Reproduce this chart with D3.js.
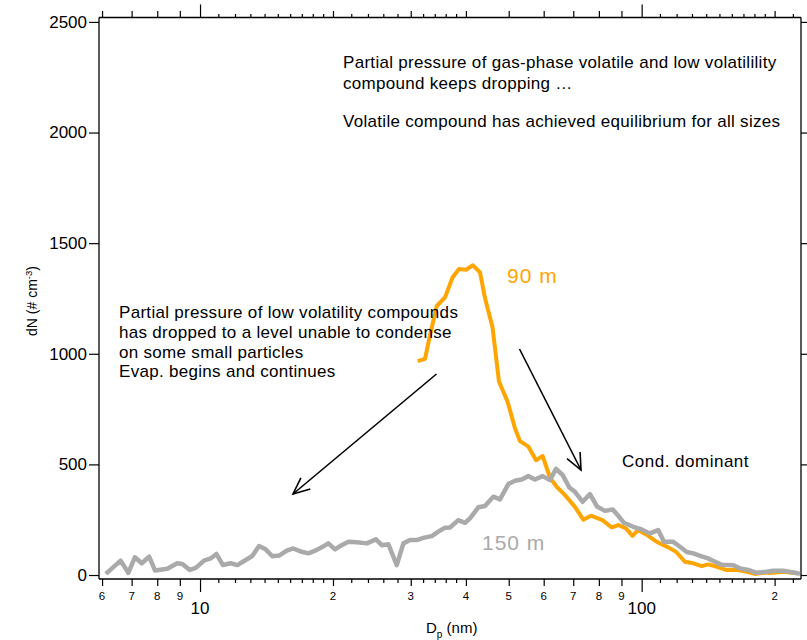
<!DOCTYPE html>
<html>
<head>
<meta charset="utf-8">
<script src="https://cdn.jsdelivr.net/npm/d3@7"></script>
<style>
  body { margin: 0; background: #fff; }
  svg { font-family: "Liberation Sans", Arial, sans-serif; }
</style>
</head>
<body>
<div id="chart"></div>
<script>
// 150 m size distribution (grey)
const dp150 = [6.12, 6.61, 6.88, 7.12, 7.38, 7.67, 7.91, 8.43, 8.88, 9.12, 9.48, 9.78,
  10.21, 10.57, 10.89, 11.27, 11.73, 12.15, 12.69, 13.13, 13.60, 14.08, 14.58, 15.10,
  15.72, 16.26, 16.99, 17.59, 18.22, 18.86, 19.52, 20.21, 20.93, 21.67, 22.64, 23.85,
  25.03, 25.79, 26.70, 27.89, 28.87, 29.89, 30.95, 32.03, 33.47, 34.64, 35.87, 36.81,
  38.44, 39.81, 40.86, 42.67, 44.18, 46.13, 47.77, 49.89, 51.66, 53.50, 55.38, 57.33,
  59.68, 61.99, 63.97, 66.24, 68.56, 70.63, 73.52, 76.38, 79.21, 82.58, 86.0, 88.51,
  91.19, 95.72, 100.0, 104.4, 109.0, 112.3, 117.9, 122.1, 126.5, 130.9, 136.7, 141.5,
  146.6, 151.8, 161.3, 167.0, 174.3, 182.1, 191.9, 198.6, 209.2, 222.4, 228.3];
const n150 = [5, 65, 10, 80, 53, 83, 20, 28, 53, 50, 23, 32,
  65, 75, 95, 45, 53, 45, 68, 86, 131, 116, 85, 88,
  110, 120, 105, 98, 110, 125, 143, 116, 135, 150, 148, 143,
  161, 135, 139, 45, 143, 158, 158, 168, 176, 196, 214, 215,
  248, 236, 256, 306, 312, 354, 342, 411, 426, 432, 447, 432,
  447, 429, 480, 452, 396, 376, 331, 366, 310, 290, 296, 268,
  236, 218, 206, 188, 203, 150, 150, 128, 104, 98, 84, 75,
  60, 46, 44, 30, 23, 10, 15, 19, 19, 10, 5];

// 90 m size distribution (orange)
const dp90 = [31.11, 32.32, 33.17, 34.36, 35.87, 37.30, 38.58, 40.01, 41.50, 43.05,
  44.18, 45.95, 47.52, 49.68, 51.66, 53.03, 55.42, 57.65, 59.68, 61.99, 64.20, 67.06,
  70.63, 73.76, 76.76, 81.52, 85.54, 88.51, 92.14, 95.33, 98.08, 102.8, 107.2, 110.6,
  114.9, 119.6, 125.3, 130.9, 136.7, 141.5, 148.9, 155.2, 165.2, 173.1, 180.5, 188.5,
  198.6, 209.2, 225.3];
const n90 = [967, 977, 1084, 1216, 1255, 1345, 1383, 1380, 1400, 1368,
  1252, 1120, 875, 785, 663, 605, 580, 519, 538, 440, 399, 361,
  308, 250, 268, 248, 215, 226, 211, 177, 203, 181, 155, 140,
  125, 105, 60, 53, 40, 48, 36, 23, 23, 15, 5, 10,
  10, 15, 8];

const yTicks = [0, 500, 1000, 1500, 2000, 2500];
const xMajorTicks = [10, 100];
const xMidTicks = [6, 7, 8, 9, 20, 30, 40, 50, 60, 70, 80, 90, 200];
const xMidLabels = ["6", "7", "8", "9", "2", "3", "4", "5", "6", "7", "8", "9", "2"];
const xMinorTicks = [11, 12, 13, 14, 15, 16, 17, 18, 19, 22, 24, 26, 28, 32, 34, 36, 38,
  110, 120, 130, 140, 150, 160, 170, 180, 190, 220];

const width = 807, height = 640;
const plotL = 99, plotR = 801, plotT = 17.5, plotB = 579;

const svg = d3.select("#chart").append("svg")
  .attr("width", width)
  .attr("height", height);

const x = d3.scaleLog().domain([5.905, 229.5]).range([plotL, plotR]);
const y = d3.scaleLinear().domain([-18, 2520]).range([plotB, plotT]);

// frame lines
svg.append("g").attr("stroke", "#000").attr("stroke-width", 1.3)
  .selectAll("line")
  .data([[plotL, plotT, plotL, plotB], [plotR, plotT, plotR, plotB], [plotL, plotT, plotR, plotT], [plotL, plotB, plotR, plotB]])
  .join("line")
  .attr("x1", d => d[0]).attr("y1", d => d[1])
  .attr("x2", d => d[2]).attr("y2", d => d[3]);

// y axes
const yAxis = svg.append("g")
  .attr("transform", `translate(${plotL},0)`)
  .call(d3.axisLeft(y).tickValues(yTicks).tickSize(10).tickPadding(2).tickFormat(d3.format("d")));
yAxis.select(".domain").remove();
yAxis.selectAll("line").attr("stroke-width", 1.2);
yAxis.selectAll("text").style("font-size", "17px").attr("fill", "#000")
  .style("font-family", "'Liberation Sans', Arial, sans-serif");

const yAxisR = svg.append("g")
  .attr("transform", `translate(${plotR},0)`)
  .call(d3.axisRight(y).tickValues(yTicks).tickSize(10).tickFormat(""));
yAxisR.select(".domain").remove();
yAxisR.selectAll("line").attr("stroke-width", 1.2);

// x axes: bottom + top mirror
function xTickGroup(ticks, size, orient, yPos) {
  const ax = orient === "bottom" ? d3.axisBottom(x) : d3.axisTop(x);
  const g = svg.append("g")
    .attr("transform", `translate(0,${yPos})`)
    .call(ax.tickValues(ticks).tickSize(size).tickFormat(""));
  g.select(".domain").remove();
  g.selectAll("line").attr("stroke-width", 1.2);
  return g;
}
xTickGroup(xMinorTicks, 4, "bottom", plotB);
xTickGroup(xMidTicks, 7, "bottom", plotB);
xTickGroup(xMajorTicks, 13, "bottom", plotB);
xTickGroup(xMinorTicks, 3.5, "top", plotT);
xTickGroup(xMidTicks, 6.5, "top", plotT);
xTickGroup(xMajorTicks, 13, "top", plotT);

svg.append("g").selectAll("text")
  .data(xMidTicks)
  .join("text")
  .attr("x", d => x(d))
  .attr("y", 600)
  .attr("text-anchor", "middle")
  .style("font-size", "11.5px")
  .text((d, i) => xMidLabels[i]);

svg.append("g").selectAll("text")
  .data(xMajorTicks)
  .join("text")
  .attr("x", d => x(d))
  .attr("y", 614)
  .attr("text-anchor", "middle")
  .style("font-size", "17px")
  .text(d => d);

// axis titles
const xt = svg.append("text").attr("x", 426).attr("y", 633).style("font-size", "15px");
xt.append("tspan").text("D");
xt.append("tspan").attr("dy", 5).style("font-size", "10px").text("p");
xt.append("tspan").attr("dy", -5).text(" (nm)");

const yt = svg.append("text")
  .attr("transform", "translate(37,301) rotate(-90)")
  .attr("text-anchor", "middle")
  .style("font-size", "14px");
yt.append("tspan").text("dN (# cm");
yt.append("tspan").attr("dy", -5).style("font-size", "9.5px").text("-3");
yt.append("tspan").attr("dy", 5).text(")");

// lines
const line = d3.line().x(d => x(d[0])).y(d => y(d[1]));
svg.append("path")
  .datum(dp90.map((d, i) => [d, n90[i]]))
  .attr("fill", "none")
  .attr("stroke", "#ffa500")
  .attr("stroke-width", 4)
  .attr("stroke-linejoin", "round")
  .attr("d", line);
svg.append("path")
  .datum(dp150.map((d, i) => [d, n150[i]]))
  .attr("fill", "none")
  .attr("stroke", "#aaaaaa")
  .attr("stroke-width", 4.5)
  .attr("stroke-linejoin", "round")
  .attr("d", line);

// annotations
function lines(xp, y0, dy, arr, size, color, ls) {
  arr.forEach((t, i) => {
    svg.append("text")
      .attr("x", xp).attr("y", y0 + i * dy)
      .style("font-size", size + "px")
      .style("letter-spacing", (ls || 0) + "px")
      .attr("fill", color)
      .text(t);
  });
}
lines(343, 68, 21, ["Partial pressure of gas-phase volatile and low volatilility",
  "compound keeps dropping \u2026"], 17, "#000", 0.3);
lines(343, 127, 0, ["Volatile compound has achieved equilibrium for all sizes"], 17, "#000", 0.3);
lines(119, 318, 19.8, ["Partial pressure of low volatility compounds",
  "has dropped to a level unable to condense",
  "on some small particles",
  "Evap. begins and continues"], 17, "#000", 0.3);
lines(622, 467, 0, ["Cond. dominant"], 17, "#000", 0.5);
lines(507, 283, 0, ["90 m"], 21, "#ffa500", 1);
lines(482, 550, 0, ["150 m"], 21, "#aaaaaa", 1);

// arrows
function arrow(x1, y1, x2, y2) {
  const a = Math.atan2(y2 - y1, x2 - x1);
  const L = 18, w = 0.42;
  const g = svg.append("g").attr("stroke", "#000").attr("stroke-width", 1.6).attr("fill", "none");
  g.append("line").attr("x1", x1).attr("y1", y1).attr("x2", x2).attr("y2", y2);
  g.append("path").attr("d",
    `M${x2 - L * Math.cos(a - w)},${y2 - L * Math.sin(a - w)}L${x2},${y2}L${x2 - L * Math.cos(a + w)},${y2 - L * Math.sin(a + w)}`);
}
arrow(436.5, 374, 293, 494);
arrow(519.5, 349, 581, 470);
</script>
</body>
</html>
